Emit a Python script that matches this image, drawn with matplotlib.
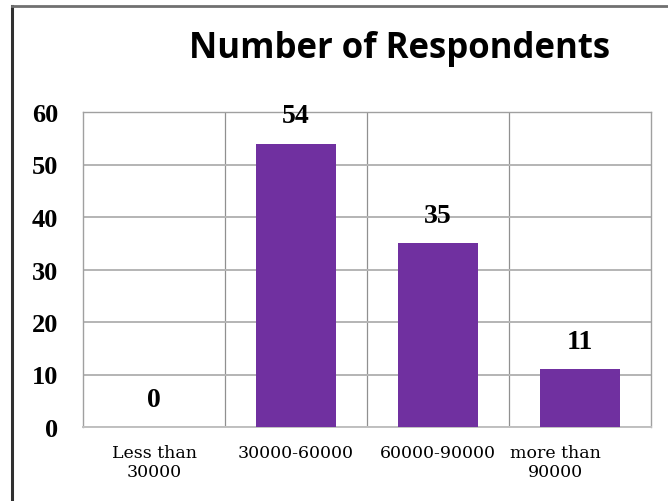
import matplotlib.pyplot as plt
from matplotlib.ticker import FixedLocator
from matplotlib.transforms import ScaledTranslation

categories = ["Less than\n30000", "30000-60000", "60000-90000", "more than\n90000"]
respondents = [0, 54, 35, 11]
y_ticks = [0, 10, 20, 30, 40, 50, 60]

fig = plt.figure(figsize=(6.68, 5.02), dpi=100)
ax = fig.add_axes([83 / 668, 1 - 428 / 502, (651 - 83) / 668, (428 - 113) / 502])

x = list(range(len(categories)))
ax.bar(x, respondents, width=0.56, color="#7030A0", zorder=3)

ax.set_xlim(-0.5, len(categories) - 0.5)
ax.set_ylim(0, 60)
ax.set_yticks(y_ticks)
ax.set_yticklabels([str(t) for t in y_ticks], fontfamily="Liberation Serif",
                   fontweight="bold", fontsize=19)
ax.set_xticks(x)
ax.set_xticklabels(categories, fontfamily="DejaVu Serif", fontsize=12.5,
                   linespacing=1.15)
ax.tick_params(axis="both", length=0)
ax.tick_params(axis="y", pad=18)
ax.tick_params(axis="x", pad=12)

# last label sits a bit left of its slot
lbl = ax.get_xticklabels()[-1]
lbl.set_transform(lbl.get_transform() + ScaledTranslation(-25 / 100, 0, fig.dpi_scale_trans))

# horizontal grid plus vertical dividers between categories
ax.yaxis.grid(True, color="#b4b4b4", linewidth=1.4, zorder=0)
ax.xaxis.set_minor_locator(FixedLocator([i + 0.5 for i in range(len(categories) - 1)]))
ax.xaxis.grid(True, which="minor", color="#909090", linewidth=0.9, zorder=0)
ax.tick_params(axis="x", which="minor", length=0)
for side in ["left", "right", "top"]:
    ax.spines[side].set_color("#a0a0a0")
    ax.spines[side].set_linewidth(1.0)
ax.spines["bottom"].set_color("#c0c0c0")
ax.spines["bottom"].set_linewidth(1.4)

for xi, v in zip(x, respondents):
    ax.annotate(str(v), (xi, v), xytext=(0, 20), textcoords="offset points",
                ha="center", va="center", fontfamily="Liberation Serif",
                fontweight="bold", fontsize=20, zorder=4)

fig.text(400 / 668, 1 - 49 / 502, "Number of Respondents", ha="center", va="center",
         fontfamily="Open Sans", fontweight="bold", fontsize=25)

# outer frame on the left and top
fig.add_artist(plt.Line2D([12 / 668, 12 / 668], [0, 1 - 7 / 502],
                          transform=fig.transFigure, color="#303030", linewidth=2.2))
fig.add_artist(plt.Line2D([12 / 668, 1], [1 - 7 / 502, 1 - 7 / 502],
                          transform=fig.transFigure, color="#707070", linewidth=2.0))

fig.savefig("out.png", dpi=100)
